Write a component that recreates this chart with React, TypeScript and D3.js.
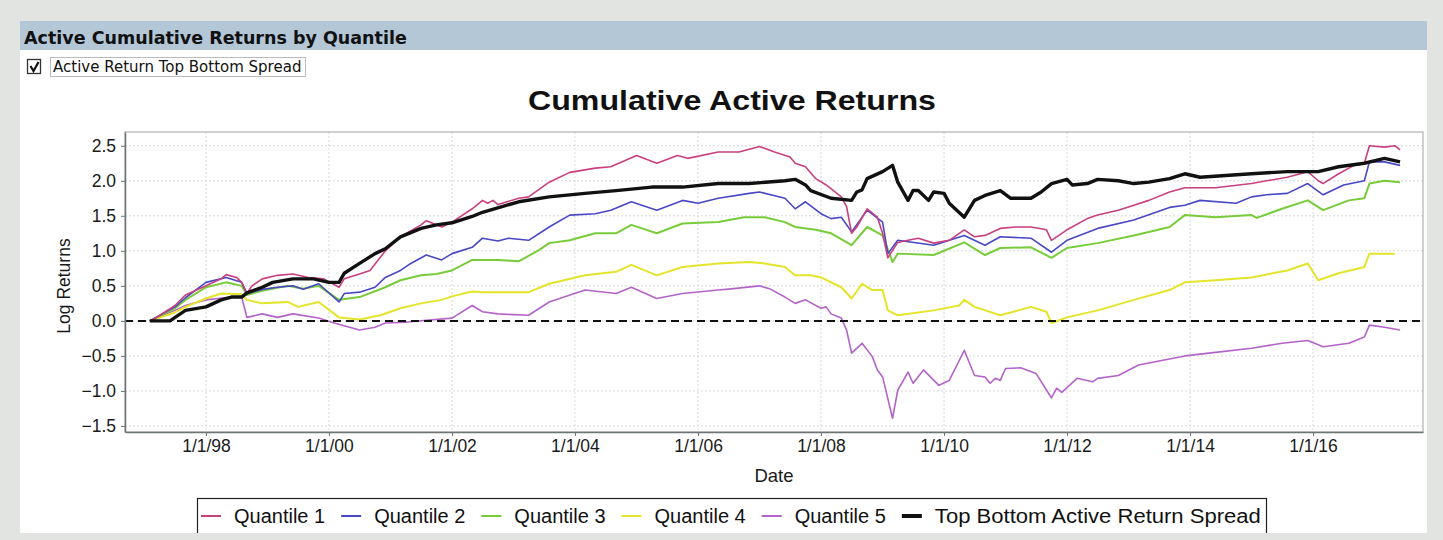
import React, { useEffect, useRef } from "react";
import * as d3 from "d3";

type Pt = [string, number];

const panelTitle = "Active Cumulative Returns by Quantile";
const checkboxLabel = "Active Return Top Bottom Spread";
const chartTitle = "Cumulative Active Returns";
const yAxisLabel = "Log Returns";
const xAxisLabel = "Date";

const seriesNames = ["Quantile 1", "Quantile 2", "Quantile 3", "Quantile 4", "Quantile 5", "Top Bottom Active Return Spread"];
const seriesColors = ["#c8407e", "#4848c4", "#78cc3a", "#e4e42a", "#b464c8", "#111111"];
const seriesWidths = [1.6, 1.6, 2, 2, 1.6, 3.4];

const yTicks = [-1.5, -1.0, -0.5, 0.0, 0.5, 1.0, 1.5, 2.0, 2.5];
const xTickDates = ["1998-01-01", "2000-01-01", "2002-01-01", "2004-01-01", "2006-01-01", "2008-01-01", "2010-01-01", "2012-01-01", "2014-01-01", "2016-01-01"];

const q1Data: Pt[] = [
  ["1997-02", 0], ["1997-03", 0.03], ["1997-07", 0.22], ["1997-09", 0.37], ["1998-01", 0.5], ["1998-04", 0.6], ["1998-05", 0.66], ["1998-07", 0.62], ["1998-08", 0.55], ["1998-09", 0.39], ["1998-10", 0.5], ["1998-12", 0.6], ["1999-03", 0.65], ["1999-06", 0.67], ["1999-09", 0.62], ["1999-12", 0.6], ["2000-03", 0.48], ["2000-04", 0.6], ["2000-07", 0.67], ["2000-09", 0.72], ["2000-12", 1.0], ["2001-03", 1.2], ["2001-07", 1.37], ["2001-08", 1.43], ["2001-11", 1.34], ["2002-01", 1.41], ["2002-05", 1.6], ["2002-07", 1.72], ["2002-08", 1.68], ["2002-09", 1.72], ["2002-10", 1.66], ["2003-02", 1.75], ["2003-04", 1.77], ["2003-08", 1.98], ["2003-12", 2.12], ["2004-05", 2.18], ["2004-08", 2.2], ["2005-01", 2.36], ["2005-05", 2.25], ["2005-09", 2.36], ["2005-11", 2.32], ["2006-05", 2.41], ["2006-09", 2.41], ["2007-01", 2.49], ["2007-04", 2.41], ["2007-07", 2.34], ["2007-08", 2.25], ["2007-10", 2.2], ["2007-12", 2.03], ["2008-02", 1.94], ["2008-05", 1.77], ["2008-06", 1.63], ["2008-07", 1.25], ["2008-08", 1.34], ["2008-10", 1.6], ["2008-12", 1.48], ["2009-01", 1.25], ["2009-02", 0.9], ["2009-04", 1.12], ["2009-06", 1.15], ["2009-08", 1.18], ["2009-11", 1.11], ["2010-02", 1.15], ["2010-05", 1.3], ["2010-07", 1.2], ["2010-09", 1.22], ["2010-12", 1.32], ["2011-03", 1.34], ["2011-06", 1.34], ["2011-09", 1.3], ["2011-10", 1.15], ["2012-01", 1.3], ["2012-05", 1.46], ["2012-07", 1.51], ["2012-11", 1.58], ["2013-02", 1.65], ["2013-05", 1.72], ["2013-09", 1.84], ["2013-12", 1.9], ["2014-06", 1.9], ["2015-01", 1.96], ["2015-04", 2.0], ["2015-08", 2.05], ["2015-12", 2.13], ["2016-02", 2.0], ["2016-03", 1.96], ["2016-06", 2.1], ["2016-09", 2.22], ["2016-11", 2.25], ["2016-12", 2.5], ["2017-03", 2.48], ["2017-05", 2.5], ["2017-06", 2.44],
];

const q2Data: Pt[] = [
  ["1997-02", 0], ["1997-07", 0.2], ["1997-09", 0.33], ["1998-01", 0.55], ["1998-05", 0.62], ["1998-08", 0.55], ["1998-09", 0.39], ["1998-12", 0.45], ["1999-03", 0.48], ["1999-06", 0.5], ["1999-08", 0.45], ["1999-11", 0.53], ["2000-03", 0.27], ["2000-04", 0.39], ["2000-07", 0.41], ["2000-10", 0.48], ["2000-12", 0.62], ["2001-03", 0.72], ["2001-05", 0.82], ["2001-08", 0.94], ["2001-11", 0.87], ["2002-01", 0.96], ["2002-05", 1.05], ["2002-07", 1.18], ["2002-10", 1.14], ["2002-12", 1.18], ["2003-04", 1.15], ["2003-08", 1.34], ["2003-12", 1.51], ["2004-05", 1.53], ["2004-08", 1.58], ["2004-12", 1.7], ["2005-05", 1.58], ["2005-10", 1.72], ["2006-01", 1.68], ["2006-05", 1.75], ["2006-11", 1.82], ["2007-01", 1.84], ["2007-06", 1.75], ["2007-08", 1.6], ["2007-10", 1.7], ["2008-01", 1.53], ["2008-03", 1.46], ["2008-05", 1.48], ["2008-07", 1.27], ["2008-10", 1.58], ["2009-01", 1.41], ["2009-02", 0.96], ["2009-04", 1.15], ["2009-11", 1.08], ["2010-05", 1.22], ["2010-09", 1.08], ["2010-12", 1.2], ["2011-06", 1.18], ["2011-10", 0.98], ["2012-01", 1.15], ["2012-07", 1.32], ["2013-02", 1.44], ["2013-09", 1.62], ["2013-12", 1.65], ["2014-03", 1.72], ["2014-10", 1.68], ["2015-01", 1.77], ["2015-04", 1.8], ["2015-08", 1.82], ["2015-12", 1.96], ["2016-03", 1.8], ["2016-07", 1.94], ["2016-11", 2.0], ["2016-12", 2.27], ["2017-03", 2.27], ["2017-06", 2.22],
];

const q3Data: Pt[] = [
  ["1997-02", 0], ["1997-07", 0.18], ["1997-09", 0.3], ["1998-01", 0.48], ["1998-05", 0.55], ["1998-08", 0.5], ["1998-09", 0.37], ["1998-12", 0.43], ["1999-05", 0.5], ["1999-08", 0.46], ["1999-11", 0.5], ["2000-03", 0.3], ["2000-07", 0.34], ["2000-12", 0.48], ["2001-03", 0.58], ["2001-07", 0.65], ["2001-10", 0.67], ["2002-01", 0.72], ["2002-05", 0.87], ["2002-10", 0.87], ["2003-02", 0.85], ["2003-06", 1.01], ["2003-08", 1.11], ["2003-12", 1.15], ["2004-05", 1.25], ["2004-09", 1.25], ["2004-12", 1.37], ["2005-05", 1.25], ["2005-10", 1.39], ["2006-05", 1.41], ["2006-10", 1.48], ["2007-02", 1.48], ["2007-06", 1.41], ["2007-08", 1.34], ["2007-12", 1.3], ["2008-03", 1.25], ["2008-07", 1.08], ["2008-10", 1.34], ["2009-01", 1.22], ["2009-03", 0.84], ["2009-04", 0.96], ["2009-11", 0.94], ["2010-05", 1.12], ["2010-09", 0.94], ["2010-12", 1.04], ["2011-06", 1.05], ["2011-10", 0.9], ["2012-01", 1.04], ["2012-07", 1.11], ["2013-02", 1.22], ["2013-05", 1.27], ["2013-09", 1.34], ["2013-12", 1.51], ["2014-06", 1.48], ["2015-01", 1.51], ["2015-02", 1.47], ["2015-07", 1.6], ["2015-12", 1.72], ["2016-03", 1.58], ["2016-08", 1.72], ["2016-11", 1.75], ["2016-12", 1.96], ["2017-03", 2.0], ["2017-06", 1.98],
];

const q4Data: Pt[] = [
  ["1997-02", 0], ["1997-07", 0.12], ["1997-09", 0.2], ["1998-01", 0.32], ["1998-04", 0.39], ["1998-08", 0.38], ["1998-09", 0.3], ["1998-12", 0.25], ["1999-05", 0.27], ["1999-07", 0.2], ["1999-11", 0.27], ["2000-03", 0.05], ["2000-07", 0.02], ["2000-11", 0.08], ["2001-03", 0.18], ["2001-07", 0.25], ["2001-11", 0.3], ["2002-01", 0.35], ["2002-05", 0.42], ["2002-07", 0.41], ["2003-04", 0.41], ["2003-08", 0.53], ["2004-03", 0.65], ["2004-09", 0.7], ["2004-12", 0.8], ["2005-05", 0.65], ["2005-10", 0.77], ["2006-05", 0.82], ["2006-11", 0.84], ["2007-02", 0.82], ["2007-06", 0.77], ["2007-08", 0.65], ["2007-11", 0.65], ["2008-01", 0.62], ["2008-05", 0.48], ["2008-07", 0.32], ["2008-09", 0.53], ["2008-11", 0.44], ["2009-01", 0.44], ["2009-02", 0.15], ["2009-04", 0.08], ["2009-11", 0.15], ["2010-04", 0.22], ["2010-05", 0.3], ["2010-07", 0.2], ["2010-12", 0.08], ["2011-06", 0.2], ["2011-09", 0.13], ["2011-10", -0.03], ["2012-01", 0.05], ["2012-07", 0.15], ["2013-02", 0.3], ["2013-09", 0.44], ["2013-12", 0.55], ["2014-06", 0.58], ["2015-01", 0.62], ["2015-08", 0.72], ["2015-12", 0.82], ["2016-02", 0.58], ["2016-06", 0.68], ["2016-11", 0.77], ["2016-12", 0.96], ["2017-05", 0.96],
];

const q5Data: Pt[] = [
  ["1997-02", 0], ["1997-07", 0.15], ["1997-09", 0.22], ["1998-01", 0.3], ["1998-06", 0.34], ["1998-08", 0.34], ["1998-09", 0.05], ["1998-12", 0.1], ["1999-03", 0.05], ["1999-06", 0.1], ["1999-11", 0.04], ["2000-02", -0.03], ["2000-07", -0.13], ["2000-10", -0.09], ["2000-12", -0.03], ["2001-04", -0.02], ["2001-08", 0.01], ["2002-01", 0.04], ["2002-05", 0.22], ["2002-07", 0.13], ["2002-10", 0.1], ["2003-04", 0.08], ["2003-08", 0.27], ["2004-03", 0.44], ["2004-09", 0.39], ["2004-12", 0.48], ["2005-05", 0.32], ["2005-10", 0.39], ["2006-05", 0.44], ["2006-08", 0.46], ["2007-01", 0.5], ["2007-03", 0.46], ["2007-06", 0.34], ["2007-08", 0.25], ["2007-10", 0.3], ["2008-01", 0.18], ["2008-02", 0.2], ["2008-03", 0.1], ["2008-05", 0.04], ["2008-06", -0.13], ["2008-07", -0.46], ["2008-09", -0.32], ["2008-11", -0.51], ["2008-12", -0.7], ["2009-01", -0.8], ["2009-03", -1.39], ["2009-04", -0.99], ["2009-06", -0.73], ["2009-07", -0.89], ["2009-09", -0.7], ["2009-12", -0.92], ["2010-02", -0.85], ["2010-05", -0.42], ["2010-07", -0.78], ["2010-09", -0.8], ["2010-10", -0.89], ["2010-11", -0.82], ["2010-12", -0.85], ["2011-01", -0.68], ["2011-04", -0.67], ["2011-07", -0.75], ["2011-10", -1.1], ["2011-11", -0.96], ["2011-12", -1.02], ["2012-03", -0.82], ["2012-06", -0.87], ["2012-07", -0.82], ["2012-11", -0.78], ["2013-03", -0.63], ["2013-05", -0.6], ["2013-12", -0.5], ["2014-06", -0.45], ["2015-01", -0.39], ["2015-07", -0.32], ["2015-12", -0.28], ["2016-03", -0.37], ["2016-08", -0.32], ["2016-11", -0.23], ["2016-12", -0.06], ["2017-03", -0.09], ["2017-06", -0.13],
];

const spreadData: Pt[] = [
  ["1997-02", 0], ["1997-06", 0], ["1997-09", 0.15], ["1998-01", 0.2], ["1998-04", 0.3], ["1998-06", 0.34], ["1998-08", 0.34], ["1998-09", 0.4], ["1998-12", 0.48], ["1999-02", 0.55], ["1999-06", 0.6], ["1999-10", 0.6], ["2000-01", 0.55], ["2000-03", 0.55], ["2000-04", 0.68], ["2000-07", 0.82], ["2000-10", 0.96], ["2000-12", 1.03], ["2001-03", 1.2], ["2001-07", 1.32], ["2001-10", 1.37], ["2002-01", 1.4], ["2002-05", 1.49], ["2002-07", 1.55], ["2003-02", 1.7], ["2003-08", 1.77], ["2004-03", 1.82], ["2004-09", 1.86], ["2005-04", 1.91], ["2005-10", 1.91], ["2006-05", 1.96], ["2006-11", 1.96], ["2007-06", 2.0], ["2007-08", 2.02], ["2007-10", 1.94], ["2007-11", 1.86], ["2008-03", 1.75], ["2008-07", 1.72], ["2008-08", 1.84], ["2008-09", 1.87], ["2008-10", 2.03], ["2009-01", 2.13], ["2009-03", 2.22], ["2009-04", 1.98], ["2009-06", 1.72], ["2009-07", 1.86], ["2009-08", 1.86], ["2009-10", 1.72], ["2009-11", 1.84], ["2010-01", 1.82], ["2010-02", 1.68], ["2010-05", 1.48], ["2010-07", 1.72], ["2010-09", 1.79], ["2010-12", 1.86], ["2011-02", 1.75], ["2011-06", 1.75], ["2011-08", 1.84], ["2011-10", 1.96], ["2012-01", 2.02], ["2012-02", 1.94], ["2012-05", 1.96], ["2012-07", 2.02], ["2012-11", 2.0], ["2013-02", 1.96], ["2013-05", 1.98], ["2013-09", 2.03], ["2013-12", 2.1], ["2014-03", 2.05], ["2015-01", 2.1], ["2015-08", 2.13], ["2016-02", 2.13], ["2016-06", 2.2], ["2016-11", 2.25], ["2017-03", 2.32], ["2017-06", 2.27],
];

const allSeries = [q1Data, q2Data, q3Data, q4Data, q5Data, spreadData];

const W = 1443;
const H = 540;
const SANS = "'Liberation Sans', Arial, Helvetica, sans-serif";
const DEJAVU = "'DejaVu Sans', Verdana, sans-serif";

export default function App() {
  const ref = useRef<SVGSVGElement>(null);

  useEffect(() => {
    const svg = d3.select(ref.current!);
    svg.selectAll("*").remove();

    const plot = { left: 125, right: 1423, top: 132, bottom: 432 };
    const parse = d3.timeParse("%Y-%m");
    const parseDay = d3.timeParse("%Y-%m-%d");

    // anchor the time scale on two labelled ticks, then extend to the plot edges
    const anchor = d3.scaleTime()
      .domain([parseDay(xTickDates[0])!, parseDay(xTickDates[xTickDates.length - 1])!])
      .range([206, 1313]);
    const x = d3.scaleTime()
      .domain([anchor.invert(plot.left), anchor.invert(plot.right)])
      .range([plot.left, plot.right]);
    const y = d3.scaleLinear().domain([-1.586, 2.696]).range([plot.bottom, plot.top]);

    // background
    svg.append("rect").attr("width", W).attr("height", H).attr("fill", "#e2e4e2");
    svg.append("rect").attr("x", 20).attr("y", 21).attr("width", 1407).attr("height", 512).attr("fill", "#ffffff");
    svg.append("rect").attr("x", 20).attr("y", 21).attr("width", 1407).attr("height", 29).attr("fill", "#b3c7d7");

    svg.append("text").attr("x", 24).attr("y", 44)
      .attr("font-family", DEJAVU).attr("font-weight", "bold").attr("font-size", 17.5)
      .attr("fill", "#111").text(panelTitle);

    // checkbox
    svg.append("rect").attr("x", 27.5).attr("y", 59.5).attr("width", 13).attr("height", 14)
      .attr("fill", "#fff").attr("stroke", "#333").attr("stroke-width", 1.3);
    svg.append("path").attr("d", "M30.5,66 L33.5,71 L38.5,62")
      .attr("fill", "none").attr("stroke", "#111").attr("stroke-width", 2.2);
    svg.append("rect").attr("x", 50.5).attr("y", 57.5).attr("width", 255).attr("height", 19)
      .attr("fill", "none").attr("stroke", "#777").attr("stroke-width", 1).attr("stroke-dasharray", "1,1");
    svg.append("text").attr("x", 53).attr("y", 72)
      .attr("font-family", DEJAVU).attr("font-size", 15).attr("fill", "#111").text(checkboxLabel);

    // chart title
    svg.append("text").attr("x", 732).attr("y", 110).attr("text-anchor", "middle")
      .attr("font-family", SANS).attr("font-weight", "bold").attr("font-size", 28)
      .attr("textLength", 408).attr("lengthAdjust", "spacingAndGlyphs")
      .attr("fill", "#111").text(chartTitle);

    // grid
    const g = svg.append("g");
    g.selectAll("line.hg").data(yTicks).join("line")
      .attr("x1", plot.left).attr("x2", plot.right)
      .attr("y1", (d) => y(d)).attr("y2", (d) => y(d))
      .attr("stroke", "#d8d8d8").attr("stroke-width", 1).attr("stroke-dasharray", "2,2");
    g.selectAll("line.vg").data(xTickDates).join("line")
      .attr("x1", (d) => x(parseDay(d)!)).attr("x2", (d) => x(parseDay(d)!))
      .attr("y1", plot.top).attr("y2", plot.bottom)
      .attr("stroke", "#d8d8d8").attr("stroke-width", 1).attr("stroke-dasharray", "2,2");

    // plot outline
    svg.append("rect").attr("x", plot.left).attr("y", plot.top)
      .attr("width", plot.right - plot.left).attr("height", plot.bottom - plot.top)
      .attr("fill", "none").attr("stroke", "#a0a4a4").attr("stroke-width", 1);

    const line = d3.line<Pt>()
      .x((d) => x(parse(d[0])!))
      .y((d) => y(d[1]));

    const clip = svg.append("clipPath").attr("id", "plotclip");
    clip.append("rect").attr("x", plot.left).attr("y", plot.top)
      .attr("width", plot.right - plot.left).attr("height", plot.bottom - plot.top);
    const lines = svg.append("g").attr("clip-path", "url(#plotclip)");

    [4, 3, 2, 1, 0].forEach((i) => {
      lines.append("path").attr("d", line(allSeries[i])!)
        .attr("fill", "none").attr("stroke", seriesColors[i]).attr("stroke-width", seriesWidths[i])
        .attr("stroke-linejoin", "round");
    });

    // zero reference line
    lines.append("line").attr("x1", plot.left).attr("x2", plot.right)
      .attr("y1", y(0)).attr("y2", y(0))
      .attr("stroke", "#111").attr("stroke-width", 2).attr("stroke-dasharray", "8,5");

    lines.append("path").attr("d", line(spreadData)!)
      .attr("fill", "none").attr("stroke", seriesColors[5]).attr("stroke-width", seriesWidths[5])
      .attr("stroke-linejoin", "round");

    // axes
    const yAxis = svg.append("g").attr("transform", `translate(${plot.left},0)`)
      .call(d3.axisLeft(y).tickValues(yTicks).tickFormat(d3.format(".1f")).tickSizeInner(4).tickSizeOuter(0));
    yAxis.select(".domain").attr("stroke", "#6c7474").attr("stroke-width", 1.5);
    yAxis.selectAll(".tick line").attr("stroke", "#6c7474");
    yAxis.selectAll(".tick text").attr("font-family", SANS).attr("font-size", 17.5).attr("fill", "#1a1a1a").attr("x", -9);

    const xAxis = svg.append("g").attr("transform", `translate(0,${plot.bottom})`)
      .call(d3.axisBottom(x).tickValues(xTickDates.map((d) => parseDay(d)!))
        .tickFormat((d) => d3.timeFormat("%-m/%-d/%y")(d as Date)).tickSizeInner(4).tickSizeOuter(0));
    xAxis.select(".domain").attr("stroke", "#6c7474").attr("stroke-width", 1.5);
    xAxis.selectAll(".tick line").attr("stroke", "#6c7474");
    xAxis.selectAll(".tick text").attr("font-family", SANS).attr("font-size", 17.5).attr("fill", "#1a1a1a").attr("y", 8);

    svg.append("text").attr("transform", `translate(70,${(plot.top + plot.bottom) / 2 + 4}) rotate(-90)`)
      .attr("text-anchor", "middle").attr("font-family", SANS).attr("font-size", 17.5)
      .attr("fill", "#1a1a1a").text(yAxisLabel);
    svg.append("text").attr("x", 774).attr("y", 482).attr("text-anchor", "middle")
      .attr("font-family", SANS).attr("font-size", 18.5).attr("fill", "#1a1a1a").text(xAxisLabel);

    // legend
    svg.append("rect").attr("x", 197.5).attr("y", 498.5).attr("width", 1069).attr("height", 40)
      .attr("fill", "#fff").attr("stroke", "#222").attr("stroke-width", 1.2);
    const lg = svg.append("g");
    let cx = 201;
    seriesNames.forEach((name, i) => {
      lg.append("line").attr("x1", cx).attr("x2", cx + 20).attr("y1", 516).attr("y2", 516)
        .attr("stroke", seriesColors[i]).attr("stroke-width", i === 5 ? 4 : 2);
      const t = lg.append("text").attr("x", cx + 33).attr("y", 523)
        .attr("font-family", SANS).attr("font-size", 20).attr("fill", "#111").text(name);
      if (i === 5) t.attr("textLength", 326).attr("lengthAdjust", "spacingAndGlyphs");
      const tw = (t.node() as SVGTextElement).getComputedTextLength();
      cx = cx + 33 + tw + 16;
    });
    // panel bottom covers legend edge
    svg.append("rect").attr("x", 0).attr("y", 533).attr("width", W).attr("height", H - 533).attr("fill", "#e2e4e2");
  }, []);

  return (
    <div style={{ position: "absolute", left: 0, top: 0 }}>
      <svg ref={ref} width={W} height={H} style={{ display: "block" }} />
    </div>
  );
}
